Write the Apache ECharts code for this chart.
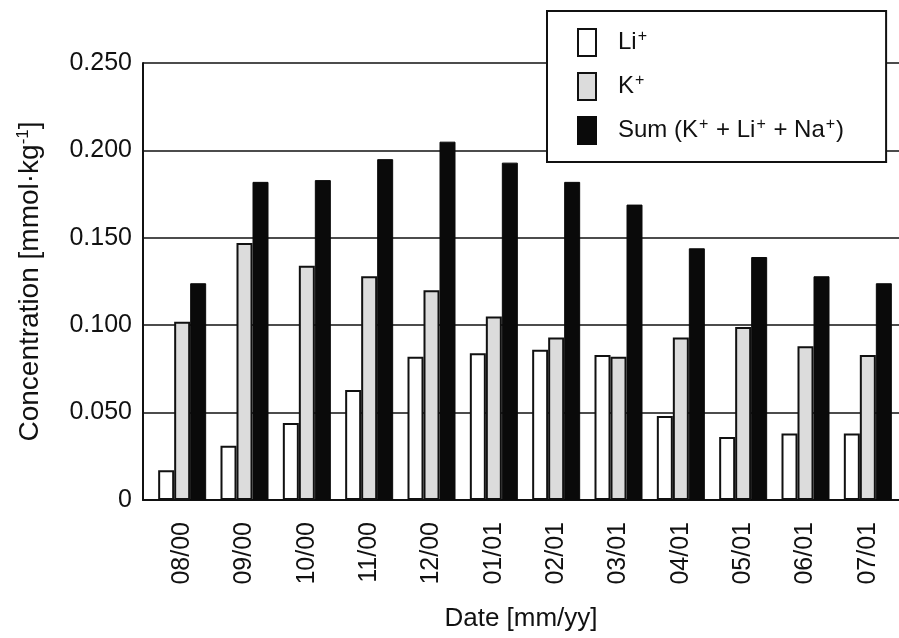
<!DOCTYPE html>
<html>
<head>
<meta charset="utf-8">
<script src="https://cdn.jsdelivr.net/npm/echarts@6/dist/echarts.min.js"></script>
<style>
    html, body { margin: 0; padding: 0; background: #fff; overflow: hidden; }
    #chart { width: 899px; height: 638px; }
</style>
</head>
<body>
<div id="chart"></div>
<script>
// dates on the x axis
var dates = ['08/00', '09/00', '10/00', '11/00', '12/00', '01/01', '02/01', '03/01', '04/01', '05/01', '06/01', '07/01'];
// concentrations [mmol/kg]
var liValues  = [0.017, 0.031, 0.044, 0.063, 0.082, 0.084, 0.086, 0.083, 0.048, 0.036, 0.038, 0.038];
var kValues   = [0.102, 0.147, 0.134, 0.128, 0.120, 0.105, 0.093, 0.082, 0.093, 0.099, 0.088, 0.083];
var sumValues = [0.124, 0.182, 0.183, 0.195, 0.205, 0.193, 0.182, 0.169, 0.144, 0.139, 0.128, 0.124];
var yTicks = [0, 0.05, 0.1, 0.15, 0.2, 0.25];

var font = '"Liberation Sans", Arial, sans-serif';

var chart = echarts.init(document.getElementById('chart'));

var option = {
    animation: false,
    backgroundColor: '#fff',
    textStyle: { fontFamily: font, color: '#111' },
    grid: [
        // bars
        { left: 151, width: 750, top: 63, bottom: 138 },
        // frame, y axis and gridlines
        { left: 143, width: 760, top: 63, bottom: 138 }
    ],
    legend: {
        orient: 'vertical',
        left: 547,
        top: 11,
        padding: [17, 42, 17, 30],
        itemWidth: 18,
        itemHeight: 27,
        itemGap: 15,
        icon: 'rect',
        borderColor: '#111',
        borderWidth: 2,
        backgroundColor: '#fff',
        z: 10,
        formatter: function(name) {
            if (name == 'Li') return '{p|Li}{s|+}';
            if (name == 'K') return '{p|K}{s|+}';
            return '{p|Sum (K}{s|+}{t| + Li}{s|+}{t| + Na}{s|+}{t|)}';
        },
        textStyle: {
            fontFamily: font,
            color: '#111',
            rich: {
                p: { fontSize: 24, lineHeight: 27, padding: [0, 0, 0, 17], fontFamily: font, color: '#111' },
                t: { fontSize: 24, lineHeight: 27, fontFamily: font, color: '#111' },
                s: { fontSize: 16, lineHeight: 27, verticalAlign: 'top', padding: [0, 1, 12, 1], fontFamily: font, color: '#111' }
            }
        }
    },
    xAxis: [{
        type: 'category',
        gridIndex: 0,
        data: dates,
        axisLine: { show: false },
        axisTick: { show: false },
        axisLabel: {
            rotate: 90,
            margin: 22,
            fontSize: 25,
            color: '#111',
            fontFamily: font
        }
    }, {
        type: 'value',
        gridIndex: 1,
        min: 0,
        max: 1,
        axisLine: { show: true, lineStyle: { color: '#111', width: 2 } },
        axisTick: { show: false },
        axisLabel: { show: false },
        splitLine: { show: false },
        name: 'Date [mm/yy]',
        nameLocation: 'middle',
        nameGap: 106,
        nameTextStyle: { fontSize: 26, color: '#111', fontFamily: font }
    }],
    yAxis: [{
        type: 'value',
        gridIndex: 0,
        min: 0,
        max: 0.25,
        interval: 0.05,
        show: false,
        splitLine: { show: false }
    }, {
        type: 'value',
        gridIndex: 1,
        min: yTicks[0],
        max: yTicks[yTicks.length - 1],
        interval: 0.05,
        axisLine: { show: true, lineStyle: { color: '#111', width: 2 } },
        axisTick: { show: false },
        axisLabel: {
            margin: 11,
            fontSize: 25,
            color: '#111',
            fontFamily: font,
            formatter: function(v) {
                return v == 0 ? '0' : v.toFixed(3);
            }
        },
        splitLine: { show: true, lineStyle: { color: '#111', width: 1.5 } },
        name: 'Concentration [mmol·kg{s|-1}]',
        nameLocation: 'middle',
        nameGap: 97,
        nameRotate: 90,
        nameTextStyle: {
            fontSize: 28,
            color: '#111',
            fontFamily: font,
            rich: {
                s: { fontSize: 17, verticalAlign: 'top', padding: [0, 0, 14, 0], fontFamily: font, color: '#111' }
            }
        }
    }],
    series: [{
        type: 'bar',
        name: 'Li',
        xAxisIndex: 0,
        yAxisIndex: 0,
        barWidth: 16,
        barGap: '0%',
        itemStyle: { color: '#fff', borderColor: '#111', borderWidth: 2 },
        data: liValues
    }, {
        type: 'bar',
        name: 'K',
        xAxisIndex: 0,
        yAxisIndex: 0,
        barWidth: 16,
        barGap: '0%',
        itemStyle: { color: '#dcdcdc', borderColor: '#111', borderWidth: 2 },
        data: kValues
    }, {
        type: 'bar',
        name: 'Sum',
        xAxisIndex: 0,
        yAxisIndex: 0,
        barWidth: 16,
        barGap: '0%',
        itemStyle: { color: '#0a0a0a', borderColor: '#0a0a0a', borderWidth: 1 },
        data: sumValues
    }]
};

chart.setOption(option);
</script>
</body>
</html>
